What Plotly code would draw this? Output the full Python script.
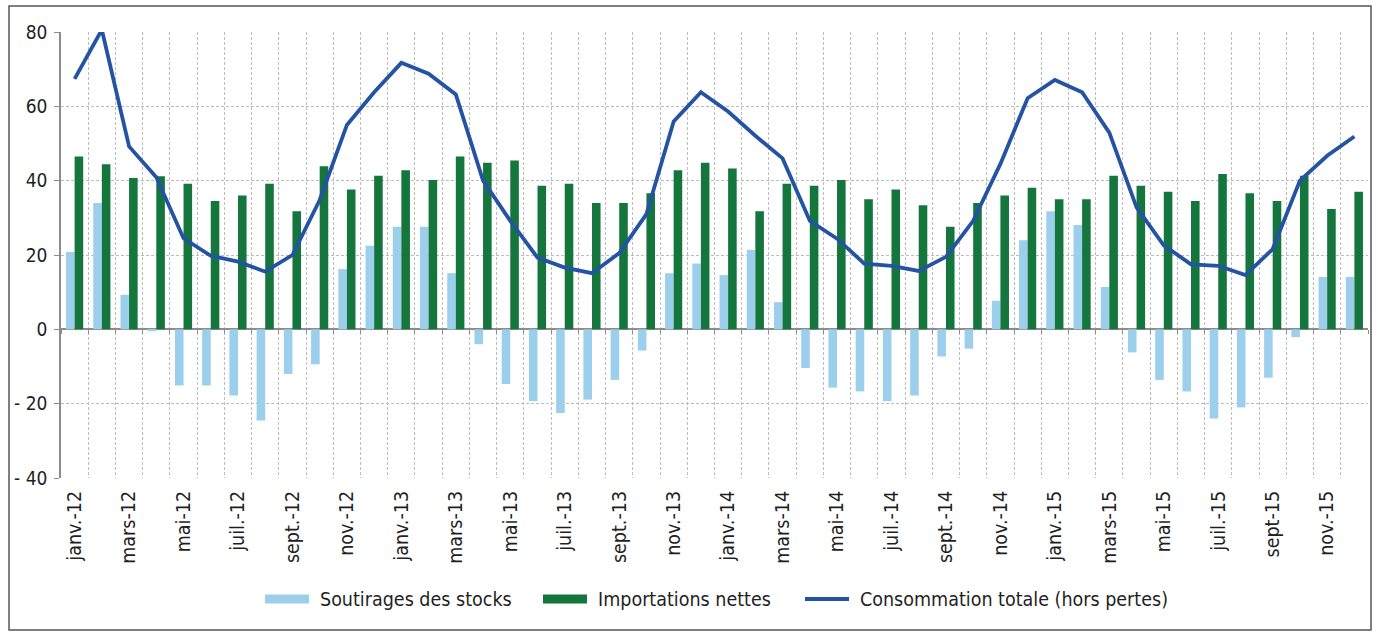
import plotly.graph_objects as go

months = [
    "janv.-12", "févr.-12", "mars-12", "avr.-12", "mai-12", "juin-12", "juil.-12", "août-12", "sept.-12", "oct.-12", "nov.-12", "déc.-12",
    "janv.-13", "févr.-13", "mars-13", "avr.-13", "mai-13", "juin-13", "juil.-13", "août-13", "sept.-13", "oct.-13", "nov.-13", "déc.-13",
    "janv.-14", "févr.-14", "mars-14", "avr.-14", "mai-14", "juin-14", "juil.-14", "août-14", "sept.-14", "oct.-14", "nov.-14", "déc.-14",
    "janv.-15", "févr.-15", "mars-15", "avr.-15", "mai-15", "juin-15", "juil.-15", "août-15", "sept-15", "oct.-15", "nov.-15", "déc.-15",
]
shown_labels = [
    "janv.-12", "mars-12", "mai-12", "juil.-12", "sept.-12", "nov.-12",
    "janv.-13", "mars-13", "mai-13", "juil.-13", "sept.-13", "nov.-13",
    "janv.-14", "mars-14", "mai-14", "juil.-14", "sept.-14", "nov.-14",
    "janv.-15", "mars-15", "mai-15", "juil.-15", "sept-15", "nov.-15",
]

soutirages = [20.8, 34.0, 9.3, -0.5, -15.1, -15.1, -17.8, -24.5, -12.0, -9.4, 16.2, 22.5,
              27.6, 27.6, 15.1, -4.0, -14.7, -19.3, -22.5, -18.9, -13.6, -5.7, 15.1, 17.7,
              14.6, 21.4, 7.3, -10.4, -15.7, -16.7, -19.3, -17.8, -7.3, -5.2, 7.7, 24.0,
              31.8, 28.1, 11.4, -6.2, -13.6, -16.7, -24.0, -21.0, -13.0, -2.1, 14.1, 14.1]
importations = [46.5, 44.4, 40.7, 41.2, 39.2, 34.5, 36.0, 39.2, 31.8, 43.9, 37.6, 41.3,
                42.8, 40.2, 46.5, 44.8, 45.4, 38.6, 39.2, 34.0, 34.0, 36.6, 42.8, 44.8,
                43.3, 31.8, 39.2, 38.6, 40.2, 35.0, 37.6, 33.4, 27.6, 34.0, 36.0, 38.1,
                35.0, 35.0, 41.3, 38.6, 37.0, 34.5, 41.8, 36.6, 34.5, 41.3, 32.4, 37.0]
consommation = [67.4, 80.6, 49.2, 40.9, 24.5, 19.8, 18.2, 15.5, 20.0, 34.8, 55.0, 63.8,
                71.7, 68.8, 63.2, 40.0, 29.2, 19.3, 16.6, 15.1, 20.5, 31.0, 55.9, 63.8,
                58.6, 52.1, 46.0, 29.2, 24.4, 17.7, 17.1, 15.7, 19.5, 29.2, 44.5, 62.2,
                67.1, 63.8, 52.9, 32.8, 22.6, 17.5, 17.1, 14.6, 21.6, 40.0, 46.7, 51.9]

series_names = ["Soutirages des stocks", "Importations nettes", "Consommation totale (hors pertes)"]
series_colors = ["#9BCFEC", "#14763D", "#2553A3"]

y_ticks = [-40, -20, 0, 20, 40, 60, 80]
y_tick_text = ["- 40", "- 20", "0", "20", "40", "60", "80"]

FONT = "DejaVu Sans Condensed, DejaVu Sans, sans-serif"
TXT = "#1f1f1f"
GRID = "#BDBDBD"
AXIS = "#8C8C8C"

fig = go.Figure()
fig.add_trace(go.Bar(x=months, y=soutirages, name=series_names[0],
                     marker=dict(color=series_colors[0], line=dict(width=0))))
fig.add_trace(go.Bar(x=months, y=importations, name=series_names[1],
                     marker=dict(color=series_colors[1], line=dict(width=0))))
fig.add_trace(go.Scatter(x=months, y=consommation, name=series_names[2],
                         mode="lines", line=dict(color=series_colors[2], width=3.8),
                         xaxis="x2", yaxis="y"))

ticktext = [m if m in shown_labels else "" for m in months]

W, H = 1378, 632
L, R, T, B = 61, 10, 32, 154
pw = W - L - R
ph = H - T - B


def px_x(p):
    return (p - L) / pw


def px_y(p):
    return (H - B - p) / ph


# custom legend (swatches + real text)
leg_y = 599
shapes = [
    dict(type="rect", xref="paper", yref="paper", x0=px_x(265), x1=px_x(309),
         y0=px_y(603.5), y1=px_y(594.5), line=dict(width=0), fillcolor=series_colors[0]),
    dict(type="rect", xref="paper", yref="paper", x0=px_x(543), x1=px_x(587),
         y0=px_y(603.5), y1=px_y(594.5), line=dict(width=0), fillcolor=series_colors[1]),
    dict(type="line", xref="paper", yref="paper", x0=px_x(805), x1=px_x(849),
         y0=px_y(leg_y), y1=px_y(leg_y), line=dict(width=4, color=series_colors[2])),
    dict(type="rect", xref="paper", yref="paper",
         x0=px_x(9), x1=px_x(1371), y0=px_y(630), y1=px_y(6),
         line=dict(color="#555555", width=1.5), fillcolor="rgba(0,0,0,0)", layer="below"),
]
annotations = [
    dict(xref="paper", yref="paper", x=px_x(x0), y=px_y(leg_y), xanchor="left", yanchor="middle",
         text=name, showarrow=False, font=dict(family=FONT, size=19.5, color=TXT))
    for x0, name in zip([318, 596, 858], series_names)
]

fig.update_layout(
    width=W, height=H,
    margin=dict(l=L, r=R, t=T, b=B, autoexpand=False),
    plot_bgcolor="white", paper_bgcolor="white",
    barmode="group", bargap=0.37, bargroupgap=0.0,
    font=dict(family=FONT, size=19, color=TXT),
    showlegend=False,
    xaxis=dict(
        type="category", categoryorder="array", categoryarray=months,
        tickmode="array", tickvals=months, ticktext=ticktext,
        tickangle=-90, tickson="boundaries", ticks="", ticklabelstandoff=8,
        showgrid=True, gridcolor=GRID, griddash="3px,2px", gridwidth=1,
        showline=False, zeroline=False,
        tickfont=dict(family=FONT, size=19.5, color=TXT),
    ),
    xaxis2=dict(
        type="category", categoryorder="array", categoryarray=months,
        overlaying="x", matches="x", anchor="free", position=(0 - (-40)) / 120,
        tickson="boundaries", ticks="outside", ticklen=4, tickcolor=AXIS, tickwidth=1,
        showticklabels=False, showgrid=False, showline=False, zeroline=False,
    ),
    yaxis=dict(
        range=[-40, 80], tickmode="array", tickvals=y_ticks, ticktext=y_tick_text,
        showgrid=True, gridcolor=GRID, griddash="3px,2px", gridwidth=1,
        zeroline=True, zerolinecolor=AXIS, zerolinewidth=1.5,
        showline=True, linecolor=AXIS, linewidth=1.5,
        ticks="outside", ticklen=5, tickcolor=AXIS, ticklabelstandoff=3,
        tickfont=dict(family=FONT, size=19, color=TXT),
    ),
    shapes=shapes,
    annotations=annotations,
)

fig.write_html("out.html", config={"displayModeBar": False},
               post_script="document.body.style.margin='0px';")
